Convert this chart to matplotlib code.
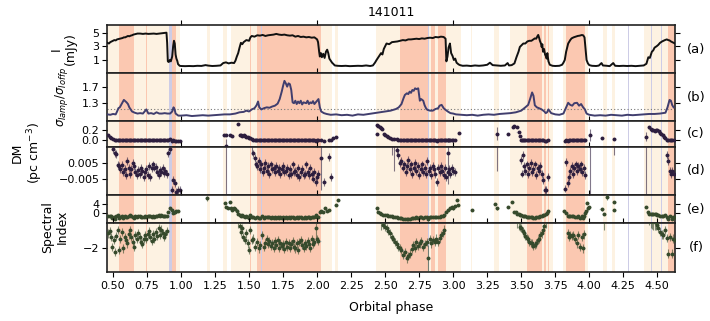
import matplotlib as mpl
mpl.use('Agg')
import matplotlib.pyplot as plt
from matplotlib.ticker import MultipleLocator, FixedLocator, FormatStrFormatter

# ---- shaded phase bands ----
peach_spans = [(0.456, 0.99), (1.19, 1.21), (1.31, 1.34), (1.37, 1.555), (2.027, 2.106),
               (2.13, 2.15), (2.43, 3.06), (3.13, 3.14), (3.30, 3.34), (3.42, 3.73),
               (3.81, 3.99), (4.10, 4.13), (4.17, 4.19), (4.40, 4.63)]
salmon_spans = [(0.543, 0.653), (0.74, 0.75), (0.934, 0.961), (1.505, 1.515), (1.555, 2.027),
                (2.61, 2.82), (2.835, 2.865), (2.89, 2.95), (3.54, 3.65), (3.665, 3.68),
                (3.695, 3.705), (3.83, 3.97), (4.58, 4.63)]
lav_spans = [(0.91, 0.934), (1.587, 1.593), (2.817, 2.823), (4.285, 4.295),
             (4.455, 4.462), (4.527, 4.533)]

# ---- (a) flux density ----
phase_I = [0.460, 0.470, 0.480, 0.490, 0.500, 0.510, 0.520, 0.530, 0.540, 0.550, 0.560, 0.570,
           0.580, 0.590, 0.600, 0.610, 0.620, 0.630, 0.640, 0.650, 0.660, 0.670, 0.680, 0.700,
           0.720, 0.740, 0.760, 0.780, 0.800, 0.820, 0.840, 0.860, 0.880, 0.893, 0.898, 0.903,
           0.910, 0.918, 0.925, 0.935, 0.942, 0.948, 0.954, 0.960, 0.966, 0.972, 0.978, 0.985, 0.990,
           1.00, 1.03, 1.06, 1.09, 1.12, 1.15, 1.18, 1.20, 1.23, 1.26, 1.29, 1.31, 1.33, 1.35, 1.37,
           1.39, 1.40, 1.41, 1.42, 1.43, 1.44, 1.45, 1.46, 1.48, 1.50, 1.51, 1.52, 1.54, 1.56, 1.58,
           1.60, 1.62, 1.64, 1.66, 1.68, 1.70, 1.72, 1.74, 1.76, 1.78, 1.80, 1.82, 1.84, 1.86, 1.88,
           1.90, 1.92, 1.94, 1.96, 1.98, 2.00, 2.007, 2.015, 2.020, 2.028, 2.035, 2.045, 2.055,
           2.065, 2.074, 2.082, 2.090, 2.100, 2.110, 2.118, 2.130, 2.150,
           2.18, 2.21, 2.24, 2.27, 2.30, 2.33, 2.36, 2.39, 2.41, 2.425, 2.437, 2.45, 2.47, 2.48,
           2.49, 2.50, 2.51, 2.53, 2.55, 2.57, 2.59, 2.61, 2.63, 2.65, 2.67, 2.69, 2.71, 2.73, 2.75,
           2.77, 2.79, 2.81, 2.83, 2.85, 2.87, 2.89, 2.91, 2.93, 2.944, 2.950, 2.958, 2.966, 2.976,
           2.985, 2.995, 3.005, 3.015, 3.025, 3.040, 3.050, 3.070,
           3.10, 3.13, 3.16, 3.19, 3.22, 3.25, 3.27, 3.29, 3.32, 3.35, 3.38, 3.40, 3.41, 3.43, 3.45,
           3.465, 3.48, 3.49, 3.50, 3.515, 3.53, 3.545, 3.56, 3.575, 3.59, 3.60, 3.61, 3.62, 3.625,
           3.632, 3.637, 3.645, 3.65, 3.655, 3.66, 3.668, 3.675, 3.68, 3.687, 3.692, 3.70, 3.71, 3.73,
           3.75, 3.78, 3.80, 3.81, 3.82, 3.83, 3.845, 3.86, 3.87, 3.885, 3.90, 3.915, 3.93, 3.945,
           3.955, 3.965, 3.975, 3.98, 3.99, 4.00, 4.02,
           4.05, 4.07, 4.09, 4.10, 4.13, 4.15, 4.176, 4.19, 4.22, 4.25, 4.28, 4.31, 4.34, 4.37, 4.40,
           4.42, 4.434, 4.445, 4.46, 4.47, 4.48, 4.495, 4.507, 4.52, 4.535, 4.545, 4.556, 4.57, 4.58,
           4.59, 4.60, 4.61, 4.62, 4.63]
flux_I = [3.5, 3.4, 3.6, 3.7, 3.8, 3.9, 3.85, 4.0, 4.05, 4.1, 4.15, 4.2,
          4.3, 4.3, 4.4, 4.5, 4.45, 4.55, 4.6, 4.7, 4.75, 4.8, 4.85, 4.85,
          4.8, 4.85, 4.8, 4.82, 4.85, 4.8, 4.85, 4.9, 4.95, 4.98, 3.5, 0.8,
          0.7, 1.0, 0.8, 1.5, 3.0, 3.8, 3.4, 1.8, 1.2, 0.9, 0.4, 0.25, 0.15,
          0.12, 0.10, 0.12, 0.10, 0.15, 0.13, 0.25, 0.18, 0.12, 0.15, 0.20, 0.55, 0.65, 0.50, 0.60,
          0.55, 0.9, 1.5, 2.0, 2.8, 3.5, 3.3, 3.6, 3.9, 3.8, 4.3, 4.5, 4.4, 4.6, 4.55,
          4.65, 4.5, 4.6, 4.65, 4.7, 4.8, 4.7, 4.65, 4.7, 4.6, 4.55, 4.6, 4.4, 4.5, 4.35,
          4.4, 4.3, 4.35, 4.25, 4.3, 4.0, 3.6, 2.2, 1.5, 2.0, 1.4, 1.9, 1.3,
          2.2, 2.5, 2.0, 1.2, 0.9, 0.6, 0.45, 0.2, 0.15,
          0.12, 0.15, 0.10, 0.12, 0.15, 0.13, 0.20, 0.12, 0.2, 0.6, 1.0, 1.4, 2.0, 1.8,
          2.6, 3.0, 3.4, 3.3, 3.6, 3.65, 3.7, 3.8, 3.9, 3.85, 4.0, 4.0, 4.05, 4.1, 4.05,
          4.15, 4.1, 4.2, 4.25, 4.2, 4.35, 4.3, 4.4, 4.35, 4.1, 0.8, 1.5, 2.8, 3.4,
          2.0, 1.6, 1.0, 1.2, 0.6, 0.35, 0.25, 0.15,
          0.18, 0.12, 0.2, 0.15, 0.2, 0.3, 0.6, 0.25, 0.2, 0.15, 0.2, 0.55, 0.2, 0.25, 0.5,
          1.4, 2.2, 2.9, 3.1, 3.4, 3.4, 3.7, 3.8, 3.8, 4.0, 4.15, 4.1, 4.5, 4.65,
          4.2, 3.8, 3.4, 2.9, 3.3, 2.2, 2.6, 1.8, 1.6, 1.2, 2.0, 0.8, 0.3, 0.15,
          0.12, 0.15, 0.3, 0.6, 1.0, 2.2, 3.4, 3.9, 4.15, 4.3, 4.4, 4.5, 4.55, 4.64,
          4.6, 4.3, 2.0, 1.0, 0.5, 0.25, 0.15,
          0.12, 0.18, 0.55, 0.2, 0.15, 0.1, 0.55, 0.15, 0.12, 0.15, 0.12, 0.15, 0.1, 0.15, 0.2,
          0.45, 1.4, 1.3, 2.2, 2.4, 2.8, 3.0, 3.2, 3.5, 3.7, 3.8, 3.9, 4.0, 3.9,
          3.85, 3.7, 3.6, 3.5, 3.4]

# ---- (b) sigma ratio ----
phase_R = [0.46, 0.48, 0.50, 0.52, 0.53, 0.54, 0.55, 0.56, 0.57, 0.58, 0.59, 0.60, 0.61, 0.62,
           0.63, 0.64, 0.66, 0.68, 0.70, 0.72, 0.745, 0.76, 0.78, 0.80, 0.82, 0.84, 0.86, 0.88,
           0.90, 0.92, 0.935, 0.945, 0.953, 0.96, 0.98,
           1.00, 1.04, 1.08, 1.12, 1.16, 1.20, 1.24, 1.28, 1.32, 1.36, 1.40, 1.43, 1.46, 1.48,
           1.50, 1.52, 1.54, 1.555, 1.566, 1.575, 1.59,
           1.61, 1.63, 1.65, 1.67, 1.69, 1.71, 1.725, 1.74, 1.75, 1.76, 1.77, 1.78, 1.79, 1.80,
           1.81, 1.82, 1.83, 1.84, 1.85, 1.86, 1.87, 1.88, 1.89, 1.90,
           1.92, 1.93, 1.94, 1.95, 1.96, 1.97, 1.98, 1.99, 2.00, 2.01, 2.02, 2.03, 2.05, 2.07,
           2.10, 2.14, 2.18, 2.22, 2.26, 2.30, 2.34, 2.38, 2.42, 2.46, 2.50, 2.54, 2.58, 2.60,
           2.62, 2.635, 2.645, 2.66, 2.67, 2.68, 2.69, 2.70, 2.71, 2.72, 2.73, 2.743, 2.755, 2.765,
           2.78, 2.79, 2.80, 2.81, 2.83, 2.85, 2.87, 2.89, 2.90, 2.915, 2.93, 2.94, 2.96, 2.98,
           3.00, 3.02,
           3.06, 3.10, 3.14, 3.18, 3.22, 3.26, 3.30, 3.34, 3.38, 3.42, 3.46, 3.50, 3.53, 3.551,
           3.565, 3.58, 3.59, 3.60, 3.615, 3.63, 3.65, 3.67, 3.68, 3.69, 3.70, 3.72, 3.75, 3.78,
           3.81, 3.83,
           3.845, 3.86, 3.875, 3.89, 3.91, 3.925, 3.94, 3.955, 3.968, 3.98, 4.00, 4.04, 4.08, 4.12,
           4.16, 4.20, 4.24, 4.28, 4.32, 4.36, 4.40, 4.44, 4.48, 4.52, 4.56, 4.575, 4.59, 4.60,
           4.61, 4.62]
ratio_R = [1.03, 1.02, 1.04, 1.03, 1.10, 1.18, 1.20, 1.26, 1.32, 1.38, 1.35, 1.32, 1.28, 1.20,
           1.15, 1.10, 1.07, 1.05, 1.06, 1.05, 1.15, 1.05, 1.06, 1.04, 1.08, 1.05, 1.05, 1.06,
           1.05, 1.05, 1.10, 1.20, 1.15, 1.05, 1.00,
           1.00, 1.01, 0.99, 1.00, 1.01, 1.00, 1.01, 1.02, 1.03, 1.03, 1.05, 1.08, 1.09, 1.12,
           1.10, 1.15, 1.18, 1.25, 1.34, 1.20, 1.15,
           1.18, 1.20, 1.19, 1.22, 1.24, 1.29, 1.40, 1.58, 1.72, 1.84, 1.78, 1.70, 1.78, 1.76,
           1.62, 1.32, 1.30, 1.36, 1.28, 1.34, 1.30, 1.36, 1.27, 1.32,
           1.30, 1.36, 1.28, 1.32, 1.30, 1.35, 1.28, 1.32, 1.36, 1.40, 1.20, 1.10, 1.06, 1.04,
           1.02, 1.03, 1.01, 1.02, 1.00, 1.03, 1.02, 1.04, 1.06, 1.08, 1.10, 1.12, 1.16, 1.20,
           1.28, 1.42, 1.50, 1.54, 1.52, 1.58, 1.55, 1.62, 1.60, 1.66, 1.64, 1.66, 1.36, 1.40,
           1.36, 1.25, 1.18, 1.14, 1.12, 1.12, 1.16, 1.18, 1.24, 1.26, 1.18, 1.15, 1.10, 1.06,
           1.05, 1.03,
           1.02, 1.01, 1.02, 1.00, 1.02, 1.03, 1.02, 1.04, 1.05, 1.06, 1.08, 1.12, 1.20, 1.26,
           1.40, 1.56, 1.48, 1.25, 1.20, 1.18, 1.15, 1.10, 1.06, 1.08, 1.15, 1.06, 1.03, 1.02,
           1.05, 1.20,
           1.31, 1.26, 1.24, 1.30, 1.31, 1.24, 1.28, 1.20, 1.15, 1.05, 1.02, 1.00, 1.01, 1.00,
           1.02, 1.01, 1.00, 1.02, 1.01, 1.02, 1.03, 1.04, 1.04, 1.05, 1.07, 1.20, 1.38, 1.36,
           1.25, 1.20]
ratio_thresh = 1.15

# ---- (c)/(d) DM: fine points, points off the zoomed scale, points with wide errors ----
dm_phase = [0.500, 0.512, 0.525, 0.535, 0.545, 0.555, 0.565, 0.575, 0.585, 0.595, 0.605, 0.615,
            0.625, 0.635, 0.645, 0.655, 0.665, 0.675, 0.685, 0.695, 0.705, 0.715, 0.725, 0.735,
            0.745, 0.755, 0.765, 0.775, 0.785, 0.795, 0.805, 0.815, 0.825, 0.835, 0.845, 0.855,
            0.865, 0.875, 0.885, 0.895, 0.904, 0.917, 0.930, 0.942, 0.954, 0.966, 0.978, 0.990,
            1.53, 1.54, 1.55, 1.56, 1.57, 1.58, 1.59, 1.60, 1.61, 1.62, 1.63, 1.64, 1.65, 1.66,
            1.67, 1.68, 1.69, 1.70, 1.71, 1.72, 1.73, 1.74, 1.75, 1.76, 1.77, 1.78, 1.79, 1.80,
            1.81, 1.82, 1.83, 1.84, 1.85, 1.86, 1.87, 1.88, 1.89, 1.90, 1.91, 1.92, 1.93, 1.94,
            1.95, 1.96, 1.97, 1.98, 1.99, 2.00, 2.01, 2.05, 2.09, 2.10,
            2.584, 2.595, 2.61, 2.62, 2.63, 2.64, 2.65, 2.66, 2.67, 2.68, 2.69, 2.70, 2.71, 2.72,
            2.73, 2.74, 2.75, 2.76, 2.77, 2.78, 2.79, 2.80, 2.81, 2.82, 2.83, 2.84, 2.85, 2.86,
            2.87, 2.88, 2.89, 2.90, 2.91, 2.92, 2.93, 2.94, 2.95, 2.96, 2.97, 2.98, 2.99, 3.00, 3.01,
            3.50, 3.505, 3.51, 3.52, 3.53, 3.54, 3.55, 3.56, 3.57, 3.58, 3.59, 3.60, 3.61, 3.62,
            3.63, 3.64, 3.65, 3.66, 3.674, 3.685, 3.70,
            3.82, 3.83, 3.845, 3.85, 3.86, 3.87, 3.88, 3.89, 3.90, 3.91, 3.92, 3.93, 3.94, 3.95,
            3.96, 3.97,
            4.57, 4.58, 4.59, 4.60, 4.61, 4.62]
dm_val = [0.0136, 0.011, 0.0105, 0.0035, 0.003, 0.0008, 0.0035, -0.001, 0.001, -0.003, 0.006, 0.0015,
          -0.002, 0.001, 0.005, 0.003, -0.001, -0.003, 0.0005, -0.002, 0.002, 0.0, -0.004, -0.001,
          0.001, -0.0025, 0.003, -0.004, 0.0015, 0.004, 0.002, 0.0025, -0.001, -0.003, 0.0005, -0.001,
          0.002, -0.0015, 0.0, -0.002, 0.011, 0.014, -0.012, -0.006, -0.008, -0.0136, -0.0125, -0.0125,
          0.011, 0.008, 0.004, 0.003, 0.006, 0.001, 0.004, -0.001, 0.002, 0.005, 0.0, 0.003, -0.002, 0.004,
          0.001, 0.002, -0.001, 0.003, 0.0, 0.002, -0.002, 0.001, 0.003, -0.001, 0.0, 0.002, -0.003, 0.001,
          -0.002, 0.004, -0.001, 0.0, -0.003, 0.002, -0.004, -0.001, 0.001, -0.003, -0.002, 0.004, -0.001, -0.003,
          0.002, -0.002, -0.005, -0.001, -0.007, -0.004, -0.002, -0.007, 0.0088, -0.004,
          0.0131, 0.0099, 0.005, 0.006, 0.002, 0.004, -0.001, 0.003, 0.007, 0.001, 0.004, -0.002, 0.002, 0.005,
          0.0, 0.003, -0.003, 0.001, 0.004, -0.001, 0.002, -0.002, 0.006, 0.0, 0.002, -0.003, 0.003, 0.001,
          -0.002, -0.007, 0.002, -0.001, 0.003, 0.0, -0.003, 0.002, -0.004, -0.001, 0.001, -0.002, 0.002, 0.0, -0.001,
          0.0067, -0.0018, 0.0099, 0.003, 0.0, 0.004, -0.002, 0.002, 0.005, -0.001, 0.001, 0.004, -0.003, 0.002,
          0.0, 0.003, -0.002, -0.006, -0.0125, -0.0125, -0.004,
          -0.0114, 0.0056, -0.008, -0.004, 0.0, 0.003, -0.002, 0.002, 0.004, 0.0, 0.003, 0.001, 0.004, -0.001,
          0.002, -0.003,
          0.0099, 0.006, -0.0004, -0.002, 0.0, -0.002]
dm_err = 0.0025

dm_hi_phase = [0.462, 0.475, 0.488, 1.315, 1.33, 1.36, 1.375, 1.42, 1.43, 1.44, 1.45, 1.46, 1.47,
               1.48, 1.49, 1.50, 1.51, 1.52, 2.12, 2.14, 2.437, 2.44, 2.45, 2.46, 2.47, 2.48, 2.49,
               2.50, 2.51, 2.52, 2.535, 2.55, 2.565, 3.04, 3.405, 3.44, 3.45, 3.466, 3.48, 3.49,
               4.095, 4.184, 4.44, 4.45, 4.46, 4.47, 4.48, 4.49, 4.50, 4.51, 4.52, 4.53, 4.54,
               4.55, 4.56]
dm_hi_val = [0.10, 0.07, 0.04, 0.10, 0.11, 0.10, 0.09, 0.33, 0.10, 0.10, 0.09, 0.10, 0.08,
             0.07, 0.06, 0.05, 0.04, 0.03, 0.05, 0.06, 0.13, 0.30, 0.28, 0.26, 0.24, 0.22, 0.12,
             0.10, 0.08, 0.06, 0.05, 0.03, 0.02, 0.14, 0.13, 0.27, 0.28, 0.27, 0.17, 0.08,
             0.05, 0.03, 0.27, 0.22, 0.20, 0.20, 0.19, 0.20, 0.20, 0.18, 0.15, 0.12, 0.10,
             0.07, 0.04]
dm_hi_err = 0.02

dm_wide_phase = [1.333, 2.03, 2.96, 3.32, 4.005, 4.42]
dm_wide_val = [-0.12, 0.0078, 0.0114, 0.13, 0.10, 0.07]
dm_wide_err = [0.15, 0.02, 0.02, 0.13, 0.12, 0.09]

# ---- (e)/(f) spectral index ----
si_phase = [0.465, 0.475, 0.485, 0.495, 0.505, 0.515, 0.525, 0.535, 0.545, 0.555, 0.565, 0.575,
            0.585, 0.595, 0.605, 0.615, 0.625, 0.635, 0.645, 0.655, 0.665, 0.675, 0.685, 0.695,
            0.705, 0.715, 0.725, 0.735, 0.745, 0.755, 0.765, 0.775, 0.785, 0.795, 0.805, 0.815,
            0.825, 0.835, 0.845, 0.855, 0.865, 0.875, 0.885, 0.895,
            1.43, 1.444, 1.45, 1.456, 1.47, 1.48, 1.49, 1.50, 1.51, 1.52, 1.53, 1.545, 1.555, 1.57,
            1.58, 1.595, 1.61, 1.62, 1.63, 1.64, 1.65, 1.66, 1.67, 1.68, 1.69, 1.70, 1.71, 1.72,
            1.73, 1.74, 1.75, 1.76, 1.77, 1.78, 1.79, 1.80, 1.81, 1.82, 1.83, 1.84, 1.85, 1.86,
            1.87, 1.88, 1.89, 1.90, 1.91, 1.92, 1.93, 1.94, 1.95, 1.96, 1.97, 1.98, 2.00, 2.01,
            2.485, 2.497, 2.51, 2.522, 2.534, 2.547, 2.559, 2.571, 2.584, 2.596, 2.608, 2.62, 2.632,
            2.645, 2.657, 2.669, 2.681, 2.694, 2.706, 2.718, 2.73, 2.743, 2.755, 2.767, 2.78, 2.792,
            2.804, 2.828, 2.84, 2.853, 2.865, 2.877, 2.89, 2.902, 2.914, 2.925, 2.934,
            3.49, 3.50, 3.51, 3.52, 3.53, 3.54, 3.55, 3.56, 3.57, 3.58, 3.59, 3.60, 3.61, 3.62,
            3.63, 3.64, 3.65, 3.66, 3.67,
            3.846, 3.852, 3.858, 3.87, 3.883, 3.895, 3.907, 3.919, 3.932, 3.944, 3.956, 3.962,
            4.50, 4.507, 4.52, 4.532, 4.544, 4.556, 4.568, 4.58, 4.593, 4.605, 4.617, 4.63]
si_val = [-1.14, -1.0, -1.35, -1.96, -1.55, -2.27, -1.3, -0.94, -2.17, -1.5, -1.04, -2.06,
          -1.35, -1.55, -1.75, -1.2, -0.94, -1.35, -1.66, -1.96, -1.25, -1.45, -1.1, -1.35,
          -1.66, -1.8, -1.5, -1.25, -1.45, -1.15, -1.0, -1.35, -1.6, -1.2, -1.45, -1.05,
          -1.3, -0.83, -1.25, -0.9, -1.1, -1.35, -1.2, -1.0,
          -0.7, -1.04, -0.83, -1.35, -1.55, -1.14, -1.75, -2.17, -0.94, -1.55, -1.45, -1.96, -1.66, -2.06,
          -1.86, -1.25, -1.96, -1.75, -1.5, -1.8, -1.6, -1.9, -1.7, -2.0, -1.6, -1.85, -1.55, -2.0,
          -1.7, -1.9, -1.8, -2.1, -1.65, -1.95, -1.75, -2.05, -1.8, -1.6, -1.96, -2.06, -1.75, -2.17,
          -1.66, -1.55, -1.85, -2.0, -1.7, -1.9, -1.6, -1.8, -2.0, -1.5, -1.8, -1.65, -1.5, -1.6,
          -0.63, -0.75, -0.83, -1.0, -1.14, -1.35, -1.5, -1.66, -1.8, -1.96, -2.05, -2.17, -2.47,
          -2.3, -2.67, -2.5, -2.37, -2.1, -1.86, -2.0, -1.66, -1.9, -1.75, -1.6, -1.96, -1.8,
          -1.66, -1.5, -1.75, -1.55, -1.66, -1.45, -1.66, -1.4, -1.25, -1.1, -0.9,
          -0.73, -0.83, -1.0, -1.14, -1.3, -1.4, -1.5, -1.66, -1.7, -1.75, -1.92, -1.86, -1.75, -1.55,
          -1.45, -1.25, -1.14, -0.9, -0.7,
          -1.14, -1.35, -1.25, -1.3, -1.25, -1.5, -1.75, -1.25, -1.96, -1.35, -2.06, -1.2,
          -0.6, -0.83, -1.04, -1.2, -1.25, -0.94, -1.4, -2.37, -1.35, -2.37, -1.45, -1.55]
si_err = 0.25

si_hi_phase = [0.905, 0.917, 0.93, 0.942, 0.954, 0.966, 0.978,
               1.326, 1.333, 1.345, 1.358, 1.365, 1.375, 1.39, 1.40, 1.41, 1.42,
               2.02, 2.03, 2.045, 2.06, 2.07, 2.09, 2.14, 2.155,
               2.437, 2.445, 2.46, 2.47, 2.945, 2.96, 2.975, 2.99, 3.00, 3.01, 3.025, 3.035, 3.135,
               3.31, 3.32, 3.405, 3.43, 3.445, 3.46, 3.47, 3.48, 3.68, 3.69, 3.70,
               3.815, 3.83, 3.97, 3.975, 3.98, 3.99, 4.00, 4.09, 4.108, 4.18, 4.185,
               4.42, 4.43, 4.44, 4.45, 4.46, 4.47, 4.48, 4.49]
si_hi_val = [0.7, 2.1, 1.4, 0.0, 0.4, 1.0, 1.0,
             4.5, 2.8, 2.4, 5.0, 2.4, 1.6, 2.4, 2.0, 1.2, -0.3,
             0.7, 1.0, 0.7, 2.1, 1.0, 1.5, 3.6, 5.7,
             2.1, 0.7, 0.0, -0.4, 0.7, 1.4, 2.1, 2.5, 2.1, 3.0, 5.7, 3.5, 1.4,
             3.9, 2.1, 2.8, 5.0, 0.7, 0.5, -0.3, -0.4, -0.3, 0.3, 1.0,
             1.0, 0.0, 0.0, 1.0, 4.3, 2.1, 2.5, 1.7, -0.4, 5.0, 1.4,
             2.8, 0.7, -0.1, -0.3, -0.35, -0.4, -0.45, -0.45]
si_hi_err = 0.5

si_wide_phase = [1.194, 1.99, 2.816, 4.128]
si_wide_val = [6.4, -0.83, -2.67, 7.1]
si_wide_err = [1.0, 0.6, 0.8, 1.5]

# ---- styling ----
peach, salmon, lav = '#fdf2e2', '#fbc8b1', '#cdcce6'
c_flux, c_ratio, c_dm, c_si = '#111111', '#403e6e', '#2d1e3e', '#364a2c'
xerr_phase = 0.015
xmin, xmax = 0.456, 4.63

fig = plt.figure(figsize=(7.1, 3.21), dpi=100)
gs = fig.add_gridspec(6, 1, height_ratios=[48, 48, 25.7, 48.3, 28, 49], hspace=0,
                      left=107/710, right=675/710, top=1-25/321, bottom=1-272/321)
axes = [fig.add_subplot(gs[i]) for i in range(6)]


def draw_points(ax, x, y, yerr, color):
    # light grey phase-bin widths, translucent vertical errors, solid markers
    ax.errorbar(x, y, xerr=xerr_phase, fmt='none', ecolor='#cbcbcb', elinewidth=0.8, zorder=2)
    ax.errorbar(x, y, yerr=yerr, fmt='none', ecolor=color, elinewidth=0.8, alpha=0.6, zorder=3)
    ax.plot(x, y, 'o', ms=2.8, color=color, mew=0, zorder=4)


for ax in axes:
    for x0, x1 in peach_spans:
        ax.axvspan(x0, x1, color=peach, lw=0, zorder=0)
    for x0, x1 in salmon_spans:
        ax.axvspan(x0, x1, color=salmon, lw=0, zorder=0)
    for x0, x1 in lav_spans:
        ax.axvspan(x0, x1, color=lav, lw=0, zorder=0)

# (a)
axes[0].plot(phase_I, flux_I, color=c_flux, lw=1.4, zorder=3)
axes[0].set_ylim(-0.9, 6.1)
axes[0].yaxis.set_major_locator(FixedLocator([1, 3, 5]))

# (b)
axes[1].plot(phase_R, ratio_R, color=c_ratio, lw=1.4, zorder=3)
axes[1].axhline(ratio_thresh, color='#777777', ls=(0, (1, 2)), lw=0.8, zorder=2)
axes[1].set_ylim(0.87, 2.03)
axes[1].yaxis.set_major_locator(FixedLocator([1.3, 1.7]))
axes[1].yaxis.set_major_formatter(FormatStrFormatter('%.1f'))

# (c) and (d): DM on two scales
for ax in (axes[2], axes[3]):
    draw_points(ax, dm_phase, dm_val, dm_err, c_dm)
    draw_points(ax, dm_hi_phase, dm_hi_val, dm_hi_err, c_dm)
    draw_points(ax, dm_wide_phase, dm_wide_val, dm_wide_err, c_dm)
axes[2].set_ylim(-0.13, 0.38)
axes[2].yaxis.set_major_locator(FixedLocator([0.0, 0.2]))
axes[2].yaxis.set_major_formatter(FormatStrFormatter('%.1f'))
axes[3].set_ylim(-0.0155, 0.0153)
axes[3].yaxis.set_major_locator(FixedLocator([-0.005, 0.005]))
axes[3].set_yticklabels(['\u22120.005', '0.005'])

# (e) and (f): spectral index on two scales
for ax in (axes[4], axes[5]):
    draw_points(ax, si_phase, si_val, si_err, c_si)
    draw_points(ax, si_hi_phase, si_hi_val, si_hi_err, c_si)
    draw_points(ax, si_wide_phase, si_wide_val, si_wide_err, c_si)
axes[4].set_ylim(-4.2, 7.9)
axes[4].yaxis.set_major_locator(FixedLocator([0, 4]))
axes[5].set_ylim(-3.5, -0.5)
axes[5].yaxis.set_major_locator(FixedLocator([-2]))

for i, ax in enumerate(axes):
    ax.set_xlim(xmin, xmax)
    for sp in ax.spines.values():
        sp.set_linewidth(1.2)
        sp.set_color('#222222')
    ax.tick_params(axis='y', direction='out', left=True, right=True, labelleft=True,
                   labelright=False, length=3.5, width=0.8, labelsize=8, pad=2)
    if i < 5:
        ax.xaxis.set_major_locator(MultipleLocator(1.0))
        ax.tick_params(axis='x', direction='out', top=True, bottom=False, labelbottom=False,
                       labeltop=False, length=3.5, width=0.8)
    else:
        ax.xaxis.set_major_locator(MultipleLocator(0.25))
        ax.xaxis.set_major_formatter(FormatStrFormatter('%.2f'))
        ax.tick_params(axis='x', direction='out', top=True, bottom=True, labelbottom=True,
                       length=3.5, width=0.8, labelsize=8, pad=3)
    ax.text(1.037, 0.5, '(%s)' % 'abcdef'[i], transform=ax.transAxes,
            ha='center', va='center', fontsize=9.5)

fig.text(391/710, 1-12/321, '141011', ha='center', va='center', fontsize=9)
fig.text(391/710, 1-307/321, 'Orbital phase', ha='center', va='center', fontsize=9)
fig.text(63/710, 1-49/321, 'I\n(mJy)', rotation=90, ha='center', va='center',
         fontsize=9, linespacing=1.1)
fig.text(62/710, 1-97/321, r'$\sigma_{Iamp}/\sigma_{Ioffp}$', rotation=90,
         ha='center', va='center', fontsize=8.5)
fig.text(28/710, 1-153/321, 'DM\n(pc cm$^{-3}$)', rotation=90, ha='center', va='center',
         fontsize=9, linespacing=1.1)
fig.text(55/710, 1-227/321, 'Spectral\nIndex', rotation=90, ha='center', va='center',
         fontsize=9, linespacing=1.1)

plt.savefig('out.png', dpi=100)
